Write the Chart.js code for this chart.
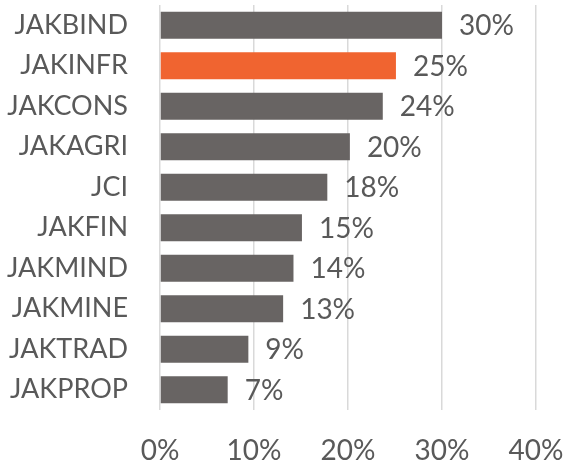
<!DOCTYPE html>
<html>
<head>
<meta charset="utf-8">
<script src="https://cdn.jsdelivr.net/npm/chart.js@4"></script>
<style>
	html, body { margin: 0; padding: 0; background: #fff; }
	#wrap { width: 564px; height: 466px; position: relative; }
</style>
</head>
<body>
<div id="wrap"><canvas id="chart"></canvas></div>
<script>
const categories = ['JAKBIND', 'JAKINFR', 'JAKCONS', 'JAKAGRI', 'JCI', 'JAKFIN', 'JAKMIND', 'JAKMINE', 'JAKTRAD', 'JAKPROP']
const values = [30.0, 25.1, 23.7, 20.2, 17.8, 15.1, 14.2, 13.1, 9.4, 7.2]
const highlight = 'JAKINFR'
const xTicks = [0, 10, 20, 30, 40]

const gray = '#686463'
const orange = '#f06430'
const textColor = '#595959'
const font = { family: 'Lato', size: 28 }
const labelFont = { family: 'Lato', size: 27 }

const barColors = categories.map((name) => (name === highlight ? orange : gray))

// draw the percentage next to each bar
const valueLabels = {
	id: 'valueLabels',
	afterDatasetsDraw(chart) {
		const ctx = chart.ctx
		const meta = chart.getDatasetMeta(0)
		ctx.save()
		ctx.font = `${font.size}px ${font.family}`
		ctx.fillStyle = textColor
		ctx.textAlign = 'left'
		ctx.textBaseline = 'middle'
		meta.data.forEach((bar, i) => {
			ctx.fillText(`${Math.round(values[i])}%`, bar.x + 17, bar.y + 1)
		})
		ctx.restore()
	},
}

const context = document.getElementById('chart').getContext('2d')
const chart = new Chart(context, {
	type: 'bar',
	data: {
		labels: categories,
		datasets: [
			{
				data: values,
				backgroundColor: barColors,
				barPercentage: 0.67,
				categoryPercentage: 1,
			},
		],
	},
	options: {
		indexAxis: 'y',
		maintainAspectRatio: false,
		responsive: true,
		animation: false,
		layout: {
			padding: { top: 5, right: 28, left: 0, bottom: 0 },
		},
		plugins: {
			legend: { display: false },
			tooltip: { enabled: false },
		},
		scales: {
			x: {
				min: 0,
				max: 40,
				afterBuildTicks: (scale) => {
					scale.ticks = xTicks.map((v) => ({ value: v }))
				},
				afterFit: (scale) => {
					scale.height = 56
					scale.paddingLeft = 0
					scale.paddingRight = 0
				},
				grid: { color: '#d9d9d9', lineWidth: 1.5, drawTicks: false },
				border: { display: false },
				ticks: {
					color: textColor,
					font: font,
					padding: 24,
					maxRotation: 0,
					callback: (v) => `${v}%`,
				},
			},
			y: {
				afterFit: (scale) => {
					scale.width = 160
					scale.paddingTop = 0
					scale.paddingBottom = 0
				},
				grid: { display: false, drawTicks: false },
				border: { display: false },
				ticks: {
					color: textColor,
					font: labelFont,
					padding: 32,
					autoSkip: false,
				},
			},
		},
	},
	plugins: [valueLabels],
})
</script>
</body>
</html>
